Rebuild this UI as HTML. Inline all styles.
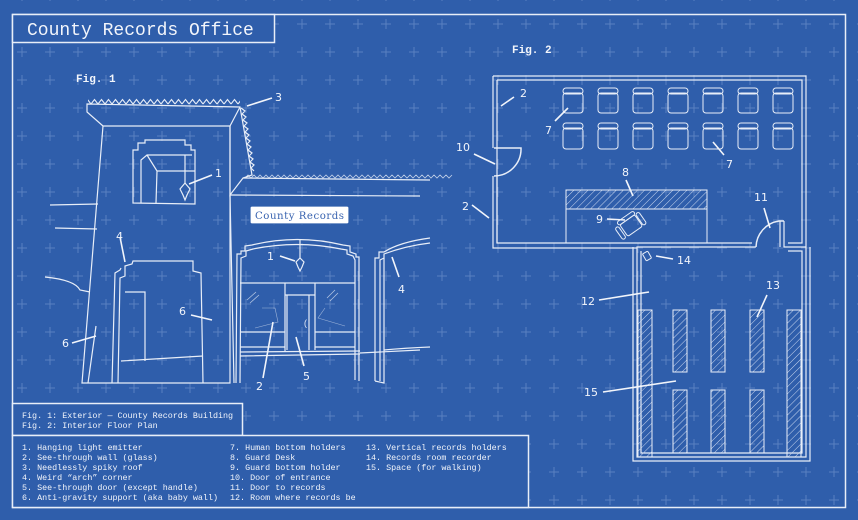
<!DOCTYPE html>
<html><head><meta charset="utf-8"><style>
html,body{margin:0;padding:0;background:#2f5eab;}
svg{display:block}
text{font-family:"Liberation Mono",monospace;fill:#f2f5fb}
.n{font-family:"DejaVu Sans","Liberation Sans",sans-serif;font-size:11px}
.l{font-size:8.4px}
</style></head><body>
<svg width="858" height="520" viewBox="0 0 858 520" xmlns="http://www.w3.org/2000/svg">
<defs>
<pattern id="grid" x="22" y="24" width="28" height="28" patternUnits="userSpaceOnUse">
<path d="M-5 0H5M0 -5V5M23 0H33M28 -5V5M-5 28H5M0 23V33M23 28H33M28 23V33" stroke="#5a80c0" stroke-width="1" fill="none"/>
</pattern>
<pattern id="zz" width="7" height="7" patternUnits="userSpaceOnUse">
<polyline points="0,6 3.5,1.5 7,6" fill="none" stroke="#e8eef8" stroke-width="1.1"/>
</pattern>
<pattern id="hatch" width="5" height="5" patternUnits="userSpaceOnUse" patternTransform="rotate(45)">
<line x1="0" y1="0" x2="0" y2="5" stroke="#c9d6ee" stroke-width="1"/>
</pattern>
</defs>
<rect width="858" height="520" fill="#2f5eab"/>
<rect width="858" height="520" fill="url(#grid)"/>
<rect x="12.5" y="14.5" width="833" height="493" fill="none" stroke="#e8eef8" stroke-width="1.5"/>
<rect x="12.5" y="14.5" width="262" height="28" fill="#2f5eab" stroke="#e8eef8" stroke-width="1.5"/>
<text x="27" y="35" font-size="18">County Records Office</text>
<text x="76" y="82" font-size="11" font-weight="bold">Fig. 1</text>
<text x="512" y="53" font-size="11" font-weight="bold">Fig. 2</text>

<g fill="none" stroke="#e8eef8" stroke-width="1.2">
<rect x="88" y="98" width="152" height="7" fill="url(#zz)" stroke="none"/>
<polygon points="87,104 240,107 252,175 243,178 230,195 230,126 103,126 87,112"/>
<line x1="240" y1="107" x2="230" y2="126"/>
<rect x="-1" y="0" width="7" height="68" fill="url(#zz)" stroke="none" transform="translate(246,108) rotate(-9) rotate(90 3 0) translate(-3 -3)" opacity="0"/>
<path d="M241,108 l4,3 -3,3 4,3 -3,3 4,3 -3,3 4,3 -3,3 4,3 -3,3 4,3 -3,3 4,3 -3,3 4,3 -3,3 4,3 -3,3 4,3 -3,3 3,3"/>
<path d="M243,178 L430,180 M230,195 L420,196"/>
<path d="M245,178 l3,-3 3,3 3,-3 3,3 3,-3 3,3 3,-3 3,3 3,-3 3,3 3,-3 3,3 3,-3 3,3 3,-3 3,3 3,-3 3,3 3,-3 3,3 3,-3 3,3 3,-3 3,3 3,-3 3,3 3,-3 3,3 3,-3 3,3 3,-3 3,3 3,-3 3,3 3,-3 3,3 3,-3 3,3 3,-3 3,3 3,-3 3,3 3,-3 3,3 3,-3 3,3 3,-3 3,3 3,-3 3,3 3,-3 3,3 3,-3 3,3 3,-3 3,3 3,-3 3,3 3,-3 3,3 3,-3 3,3 3,-3 3,3 3,-3 3,3 3,-3 3,3 3,-3" stroke-width="0.8" opacity="0.8"/>
<path d="M50,205 L98,204 M55,228 L97,229 M45,277 Q75,280 80,290 L90,292"/>
<path d="M103,126 L82,383 L230,383 L230,126"/>
<path d="M88,383 L96,326 M230,195 L234,383"/>
<path d="M133,203 L133,150 L138,150 L138,143 L145,143 L145,140 L185,140 L185,145 L191,145 L191,150 L195,150 L195,204 Z"/>
<path d="M141,203 L141,160 L147,155 L192,155 M147,155 L157,171 L195,171 M157,171 L156,203"/>
<path d="M185,155 L185,183"/>
<path d="M180,189 L185,183 L190,189 L187,195 L185,200 L183,195 Z"/>
<path d="M118,383 L120,278 L125,276 L125,266 L132,264 L133,261 L193,261 L193,271 L201,273 L203,383"/>
<path d="M112,383 L115,273 L120,270 L121,268"/>
<path d="M125,292 L145,292 L145,361 M121,361 L203,356"/>
<path d="M236,383 L237,254 L241,254 L241,251 L245,251 L245,246 L252,245 Q297,234 343,245 L350,246 L350,252 L356,254 L356,257 L359,257 L359,381"/>
<path d="M240,383 L241,258 L246,256 L246,251 L253,249 Q297,240 341,249 L347,250 L347,254 L353,256 L355,260 L355,380"/>
<path d="M240,283 L355,283 M285,283 L285,352 M315,283 L315,350 M285,295 L315,295 M287,295 L287,350 M309,295 L309,350"/>
<path d="M240,332 L285,332 M315,332 L355,332 M240,347 L285,347 M315,347 L355,347 M240,352 L360,351 M240,356 L360,354"/>
<path d="M262,308 L275,308 L278,322 L255,328 M325,308 L318,318 L345,326" stroke-width="0.6" opacity="0.6"/>
<path d="M247,300 L256,292 M250,303 L259,295 M327,298 L335,290 M330,301 L338,293" stroke-width="0.8" opacity="0.7"/>
<path d="M300,240 L300,258"/>
<path d="M296,262 L300,258 L304,262 L302,267 L300,271 L298,267 Z"/>
<path d="M375,381 L375,258 L379,258 L379,252 L384,252 Q400,242 430,238 M380,381 L380,260 L384,258 L384,254 Q405,246 430,243"/>
<path d="M375,381 L384,383 L384,258"/>
<path d="M360,353 L420,350 M384,350 Q405,348 430,347"/>
<rect x="250" y="206" width="99" height="18" fill="#ffffff" stroke="#2f5eab" rx="2"/>
</g>
<text x="255" y="219" style="fill:#3a64b0;font-family:'DejaVu Serif','Liberation Serif',serif" font-size="10.2" textLength="89">County Records</text>

<g stroke="#f2f5fb" stroke-width="1.6">
<line x1="247" y1="106" x2="272" y2="98"/>
<line x1="189" y1="184" x2="212" y2="175"/>
<line x1="120" y1="237" x2="125" y2="262"/>
<line x1="72" y1="343" x2="96" y2="336"/>
<line x1="191" y1="315" x2="212" y2="320"/>
<line x1="280" y1="256" x2="295" y2="261"/>
<line x1="392" y1="257" x2="399" y2="277"/>
<line x1="273" y1="322" x2="263" y2="378"/>
<line x1="296" y1="337" x2="304" y2="366"/>
</g>
<g class="n">
<text x="275" y="101" class="n">3</text>
<text x="215" y="177" class="n">1</text>
<text x="116" y="240" class="n">4</text>
<text x="62" y="347" class="n">6</text>
<text x="179" y="315" class="n">6</text>
<text x="267" y="260" class="n">1</text>
<text x="398" y="293" class="n">4</text>
<text x="256" y="390" class="n">2</text>
<text x="303" y="380" class="n">5</text>
<text x="303" y="326" font-size="9" style="fill:#dfe6f4">(</text>
</g>

<g fill="none" stroke="#e8eef8" stroke-width="1.2">
<path d="M493,76 L806,76 L806,247 L784,247 L784,221 M756,247 L637,247 L637,457 L806,457 L806,247"/>
<path d="M497,80 L802,80 L802,243 L788,243 M752,243 L497,243 L497,80" />
<path d="M493,76 L493,148 M493,176 L493,248 L637,248"/>
<path d="M633,247 L633,461 L810,461 L810,247 M633,247 L633,250"/>
<path d="M641,251 L641,453 L802,453 L802,251 L788,251"/>
<path d="M494,148 L521,148 A27,27 0 0 1 494,176" stroke-width="1.5"/>
<path d="M784,221 L779,221 A27,27 0 0 0 756,247" stroke-width="1.5"/>
<line x1="780" y1="221" x2="780" y2="247"/>
<line x1="497" y1="176" x2="497" y2="243"/>
</g>
<g fill="none" stroke="#e8eef8" stroke-width="1">
<g id="chairs">
<rect x="563" y="88" width="20" height="6" rx="3"/><rect x="563" y="93" width="20" height="20" rx="3"/>
<rect x="563" y="123" width="20" height="6" rx="3"/><rect x="563" y="128" width="20" height="21" rx="3"/>
</g>
<use href="#chairs" x="35"/><use href="#chairs" x="70"/><use href="#chairs" x="105"/><use href="#chairs" x="140"/><use href="#chairs" x="175"/><use href="#chairs" x="210"/>
<rect x="566" y="190" width="141" height="19" fill="url(#hatch)"/>
<rect x="566" y="209" width="141" height="34"/>
<g transform="rotate(-35 632 225)"><rect x="622" y="218" width="18" height="14" rx="2"/><rect x="621" y="214" width="20" height="4" rx="2"/><rect x="616" y="218" width="4" height="14" rx="2"/><rect x="641" y="218" width="4" height="14" rx="2"/></g>
<rect x="644" y="252" width="6" height="8" rx="1" transform="rotate(-30 647 256)"/>
<rect x="638" y="310" width="14" height="147" fill="url(#hatch)"/>
<rect x="787" y="310" width="14" height="147" fill="url(#hatch)"/>
<rect x="673" y="310" width="14" height="62" fill="url(#hatch)"/>
<rect x="711" y="310" width="14" height="62" fill="url(#hatch)"/>
<rect x="750" y="310" width="14" height="62" fill="url(#hatch)"/>
<rect x="673" y="390" width="14" height="63" fill="url(#hatch)"/>
<rect x="711" y="390" width="14" height="63" fill="url(#hatch)"/>
<rect x="750" y="390" width="14" height="63" fill="url(#hatch)"/>
</g>
<g stroke="#f2f5fb" stroke-width="1.6">
<line x1="501" y1="106" x2="514" y2="97"/>
<line x1="474" y1="154" x2="495" y2="164"/>
<line x1="472" y1="205" x2="489" y2="218"/>
<line x1="555" y1="121" x2="568" y2="108"/>
<line x1="713" y1="142" x2="724" y2="155"/>
<line x1="626" y1="180" x2="633" y2="196"/>
<line x1="607" y1="219" x2="625" y2="220"/>
<line x1="764" y1="208" x2="770" y2="228"/>
<line x1="656" y1="256" x2="673" y2="259"/>
<line x1="599" y1="300" x2="649" y2="292"/>
<line x1="767" y1="295" x2="757" y2="317"/>
<line x1="603" y1="392" x2="676" y2="381"/>
</g>
<g class="n">
<text x="520" y="97" class="n">2</text>
<text x="456" y="151" class="n">10</text>
<text x="462" y="210" class="n">2</text>
<text x="545" y="134" class="n">7</text>
<text x="726" y="168" class="n">7</text>
<text x="622" y="176" class="n">8</text>
<text x="596" y="223" class="n">9</text>
<text x="754" y="201" class="n">11</text>
<text x="677" y="264" class="n">14</text>
<text x="581" y="305" class="n">12</text>
<text x="766" y="289" class="n">13</text>
<text x="584" y="396" class="n">15</text>
</g>

<rect x="12.5" y="403.5" width="230" height="32" fill="#2f5eab" stroke="#e8eef8" stroke-width="1.5"/>
<rect x="12.5" y="435.5" width="516" height="72" fill="#2f5eab" stroke="#e8eef8" stroke-width="1.5"/>
<g class="l">
<text x="22" y="418" class="l">Fig. 1: Exterior — County Records Building</text>
<text x="22" y="428" class="l">Fig. 2: Interior Floor Plan</text>
<text x="22" y="450" class="l">1. Hanging light emitter</text>
<text x="22" y="460" class="l">2. See-through wall (glass)</text>
<text x="22" y="470" class="l">3. Needlessly spiky roof</text>
<text x="22" y="480" class="l">4. Weird “arch” corner</text>
<text x="22" y="490" class="l">5. See-through door (except handle)</text>
<text x="22" y="500" class="l">6. Anti-gravity support (aka baby wall)</text>
<text x="230" y="450" class="l">7. Human bottom holders</text>
<text x="230" y="460" class="l">8. Guard Desk</text>
<text x="230" y="470" class="l">9. Guard bottom holder</text>
<text x="230" y="480" class="l">10. Door of entrance</text>
<text x="230" y="490" class="l">11. Door to records</text>
<text x="230" y="500" class="l">12. Room where records be</text>
<text x="366" y="450" class="l">13. Vertical records holders</text>
<text x="366" y="460" class="l">14. Records room recorder</text>
<text x="366" y="470" class="l">15. Space (for walking)</text>
</g>
</svg>
</body></html>
